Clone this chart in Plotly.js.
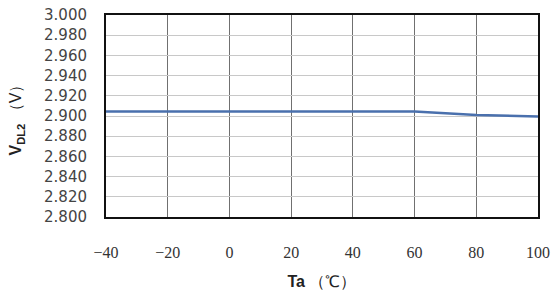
<!DOCTYPE html>
<html><head><meta charset="utf-8">
<script src="https://cdn.plot.ly/plotly-3.0.1.min.js"></script>
<style>html,body{margin:0;padding:0;background:#fff;}#chart{width:555px;height:298px;}</style>
</head><body><div id="chart"></div>
<script>
const temps = [-40, -20, 0, 20, 40, 60, 80, 100];
const vdl2 = [2.9045, 2.9045, 2.9045, 2.9045, 2.9045, 2.9045, 2.901, 2.8995];
const xTickVals = [-40, -20, 0, 20, 40, 60, 80, 100];
const xTickText = ['\u221240', '\u221220', '0', '20', '40', '60', '80', '100'];
const yTickVals = [2.800, 2.820, 2.840, 2.860, 2.880, 2.900, 2.920, 2.940, 2.960, 2.980, 3.000];

const trace = {x: temps, y: vdl2, type: 'scatter', mode: 'lines',
  line: {color: '#4a70ad', width: 2.5}, hoverinfo: 'skip'};

const layout = {
  width: 555, height: 298,
  margin: {l: 106, r: 17, t: 15, b: 81},
  paper_bgcolor: '#fff', plot_bgcolor: '#fff',
  showlegend: false,
  xaxis: {
    range: [-40, 100], tickvals: xTickVals, ticktext: xTickText,
    showgrid: true, gridcolor: '#707070', gridwidth: 1,
    zeroline: false, showline: true, linecolor: '#111', linewidth: 2, mirror: true,
    ticks: '', ticklabelstandoff: 20,
    tickfont: {family: 'Liberation Serif, Times New Roman, serif', size: 16, color: '#333'},
    title: {text: '<b>Ta</b> （℃）', standoff: 16,
      font: {family: 'Liberation Sans, Arial, sans-serif', size: 16, color: '#222'}}
  },
  yaxis: {
    range: [2.8, 3.0], tickvals: yTickVals, tickformat: '.3f',
    showgrid: true, gridcolor: '#c8c8c8', gridwidth: 1,
    zeroline: false, showline: true, linecolor: '#111', linewidth: 2, mirror: true,
    ticks: '', ticklabelstandoff: 14,
    tickfont: {family: 'DejaVu Sans, sans-serif', size: 15, color: '#444'},
    title: {text: '<b>V<sub>DL2</sub></b> （V）', standoff: 18,
      font: {family: 'Liberation Sans, Arial, sans-serif', size: 16, color: '#222'}}
  }
};
Plotly.newPlot('chart', [trace], layout, {staticPlot: true, displayModeBar: false});
</script></body></html>
